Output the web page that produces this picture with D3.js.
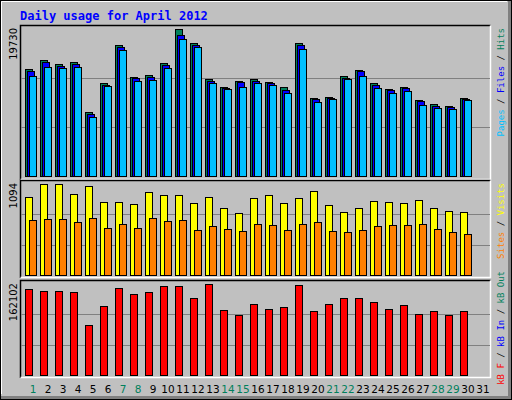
<!DOCTYPE html>
<html><head><meta charset="utf-8">
<script src="https://cdn.jsdelivr.net/npm/d3@7"></script>
<style>body{margin:0;background:#fff}svg{display:block}</style>
</head><body>
<svg id="c" width="512" height="400"></svg>
<script>
const days = d3.range(1, 32);
const weekend = [1,7,8,14,15,21,22,28,29];
const hits  = [14360,15570,15030,15300,8590,12480,17580,13290,13550,15160,19730,17850,13020,11940,12750,13020,12620,11940,17850,10470,10600,13420,14220,12480,11680,11940,10200,9660,9390,10470];
const files = [14090,15300,14760,15030,8320,12210,17310,13150,13290,14900,18920,17580,12750,11810,12620,12750,12480,11540,17580,10330,10470,13150,14090,12210,11540,11810,10060,9390,9260,10330];
const pages = [13420,14630,14490,14630,7920,12080,16910,12750,12880,14490,18390,17310,12480,11680,11940,12480,12210,11140,17040,9930,10330,13020,13420,11810,11140,11410,9530,9130,8990,10200];
const visits = [938,1094,1094,970,1066,874,874,850,994,958,958,862,938,802,742,922,958,862,922,1006,838,754,802,886,874,862,898,802,766,754];
const sites  = [658,670,670,634,682,562,610,562,682,646,658,538,586,550,526,610,598,538,610,634,526,514,538,586,598,598,610,550,514,490];
const kbytes = [152650,149100,149100,147330,88750,122480,154430,143780,147330,157980,157980,136680,162102,115380,106500,126030,117150,120700,159750,113600,126030,136680,136680,129580,117150,124250,108280,113600,106500,113600];
const maxLabels = ["19730","1094","162102"];

const svg = d3.select("#c");
const mono = "'DejaVu Sans Mono', monospace";
// frame
svg.append("rect").attr("x",0).attr("y",0).attr("width",512).attr("height",400).attr("fill","#808080");
svg.append("rect").attr("x",0).attr("y",0).attr("width",508).attr("height",396).attr("fill","#C0C0C0");
svg.append("path").attr("d","M1.5,394V1.5H507").attr("stroke","#fff").attr("fill","none");
svg.append("rect").attr("x",0.5).attr("y",0.5).attr("width",511).attr("height",399).attr("fill","none").attr("stroke","#000");

svg.append("text").attr("x",20).attr("y",20).attr("font-family",mono).attr("font-weight","bold")
  .attr("font-size",12).attr("fill","#0000FF").text("Daily usage for April 2012");

const x = d3.scaleLinear().domain([1,31]).range([25,475]);
const panels = [
  {top:25, bot:180, base:176, maxY:29, max:19730},
  {top:180, bot:278, base:275, maxY:184, max:1094},
  {top:280, bot:378, base:375, maxY:284, max:162102}
];
panels.forEach((p,i)=>{
  p.y = d3.scaleLinear().domain([0,p.max]).range([p.base,p.maxY]);
  const g = svg.append("g");
  g.append("path").attr("d",`M20.5,${p.bot}V${p.top+0.5}H490.5`).attr("stroke","#000").attr("fill","none").attr("stroke-width",1.5);
  g.append("path").attr("d",`M20.5,${p.bot-0.5}H490.5V${p.top+0.5}`).attr("stroke","#fff").attr("fill","none").attr("stroke-width",1.5);
  [p.max/3, 2*p.max/3].forEach(v=>{
    g.append("line").attr("x1",21).attr("x2",490).attr("y1",Math.round(p.y(v))+0.5).attr("y2",Math.round(p.y(v))+0.5).attr("stroke","#808080");
  });
  svg.append("text").attr("transform",`translate(17,${p.top+3}) rotate(-90)`).attr("text-anchor","end")
    .attr("font-family","'DejaVu Sans',sans-serif").attr("font-size",10).attr("fill","#000").text(maxLabels[i]);
});

function bars(data, p, off, w, color){
  svg.append("g").selectAll("rect").data(data).join("rect")
    .attr("x",(d,i)=>x(i+1)+off+0.5).attr("width",w)
    .attr("y",d=>Math.round(p.y(d))+0.5).attr("height",d=>p.base-Math.round(p.y(d)))
    .attr("fill",color).attr("stroke","#000");
}
bars(hits, panels[0], 0, 7, "#00805C");
bars(files, panels[0], 2, 7, "#0000FF");
bars(pages, panels[0], 4, 7, "#00C0FF");
bars(visits, panels[1], 0, 7, "#FFFF00");
bars(sites, panels[1], 4, 7, "#FF8000");
bars(kbytes, panels[2], 0, 7, "#FF0000");

svg.append("g").selectAll("text").data(days).join("text")
  .attr("x",d=>x(d)+8).attr("y",393).attr("text-anchor","middle")
  .attr("font-family","'DejaVu Sans',sans-serif").attr("font-size",10.5)
  .attr("fill",d=>weekend.includes(d)?"#00805C":"#000").text(d=>d);

function rlabel(topY, parts){
  const t = svg.append("text").attr("transform",`translate(504,${topY}) rotate(-90)`).attr("text-anchor","end")
    .attr("font-family",mono).attr("font-size",9);
  parts.forEach(([s,c])=>t.append("tspan").attr("fill",c).text(s));
}
rlabel(28, [["Pages","#00C0FF"],[" / ","#000"],["Files","#0000FF"],[" / ","#000"],["Hits","#00805C"]]);
rlabel(183, [["Sites","#FF8000"],[" / ","#000"],["Visits","#FFFF00"]]);
rlabel(271, [["kB F","#FF0000"],[" / ","#000"],["kB In","#0000FF"],[" / ","#000"],["kB Out","#00805C"]]);
</script>
</body></html>
